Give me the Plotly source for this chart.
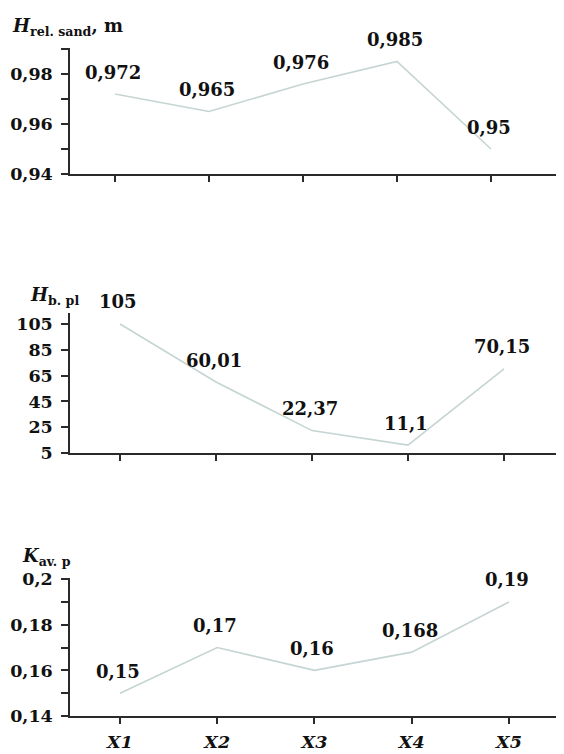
import plotly.graph_objects as go

categories = ["X1", "X2", "X3", "X4", "X5"]
h_rel_sand = [0.972, 0.965, 0.976, 0.985, 0.95]
h_b_pl = [105, 60.01, 22.37, 11.1, 70.15]
k_av_p = [0.15, 0.17, 0.16, 0.168, 0.19]

ticks1 = [0.94, 0.96, 0.98]
ticktext1 = ["0,94", "0,96", "0,98"]
ticks2 = [5, 25, 45, 65, 85, 105]
ticktext2 = ["5", "25", "45", "65", "85", "105"]
ticks3 = [0.14, 0.16, 0.18, 0.2]
ticktext3 = ["0,14", "0,16", "0,18", "0,2"]

# the page body adds an 8px margin, so the figure is made 8px smaller
OFF = 8
W, H = 564 - OFF, 754 - OFF
FONT = "DejaVu Serif"
LINE = "#c6d4d4"
AX = "#2a2a2a"

xpos = list(range(1, len(categories) + 1))

def fx(px):
    return (px - OFF) / W

def fy(py):
    return 1 - (py - OFF) / H

fig = go.Figure()

panels = [
    (h_rel_sand, "x", "y"),
    (h_b_pl, "x2", "y2"),
    (k_av_p, "x3", "y3"),
]
for vals, xa, ya in panels:
    fig.add_trace(go.Scatter(
        x=xpos, y=vals, xaxis=xa, yaxis=ya, mode="lines",
        line=dict(color=LINE, width=1.6),
        hoverinfo="skip", showlegend=False))
    for xv, v in zip(xpos, vals):
        fig.add_annotation(
            x=xv, y=v, xref=xa, yref=ya, text=str(v).replace(".", ","),
            showarrow=False, yshift=22, xshift=-2, yanchor="middle",
            font=dict(family=FONT, size=18, color="#111", weight="bold"))

common_x = dict(showline=True, linecolor=AX, linewidth=1.5, ticks="outside",
                ticklen=6, tickwidth=1.5, tickcolor=AX, showgrid=False,
                zeroline=False, tickvals=xpos, domain=[fx(70), 1], automargin=False)
fig.update_layout(
    template="none",
    width=W, height=H, margin=dict(l=0, r=0, t=0, b=0, autoexpand=False),
    paper_bgcolor="white", plot_bgcolor="white",
    xaxis=dict(common_x, anchor="y", range=[0.521, 5.777], showticklabels=False),
    xaxis2=dict(common_x, anchor="y2", range=[0.479, 5.625], showticklabels=False),
    xaxis3=dict(common_x, anchor="y3", range=[0.486, 5.566],
                ticktext=categories, ticklabelstandoff=3,
                tickfont=dict(family=FONT, size=17.5, color="#111",
                              weight="bold", style="italic")),
)

common_y = dict(showline=True, linecolor=AX, linewidth=1.5, ticks="outside",
                ticklen=7, tickwidth=1.5, tickcolor=AX, showgrid=False,
                zeroline=False, ticklabelstandoff=5, automargin=False,
                tickfont=dict(family=FONT, size=17.5, color="#111", weight="bold"))
fig.update_layout(
    yaxis=dict(common_y, anchor="x", domain=[fy(174), fy(48)], range=[0.94, 0.9904],
               tickvals=ticks1, ticktext=ticktext1,
               minor=dict(ticks="outside", ticklen=7, tickwidth=1.5, tickcolor=AX, dtick=0.01)),
    yaxis2=dict(common_y, anchor="x2", domain=[fy(453), fy(313)], range=[5, 113.5],
                tickvals=ticks2, ticktext=ticktext2),
    yaxis3=dict(common_y, anchor="x3", domain=[fy(716), fy(578)], range=[0.14, 0.2005],
                tickvals=ticks3, ticktext=ticktext3,
                minor=dict(ticks="outside", ticklen=7, tickwidth=1.5, tickcolor=AX, dtick=0.01)),
)

titles = [
    ("<b><i>H</i></b><sub><b>rel. sand</b></sub><b>, m</b>", 10, 27),
    ("<b><i>H</i></b><sub><b>b. pl</b></sub>", 28, 296),
    ("<b><i>K</i></b><sub><b>av. p</b></sub>", 20, 557),
]
for txt, px, py in titles:
    fig.add_annotation(x=fx(px), y=fy(py), xref="paper", yref="paper", text=txt,
                       showarrow=False, xanchor="left", yanchor="middle",
                       font=dict(family=FONT, size=18, color="#111"))

fig.write_html("out.html")
